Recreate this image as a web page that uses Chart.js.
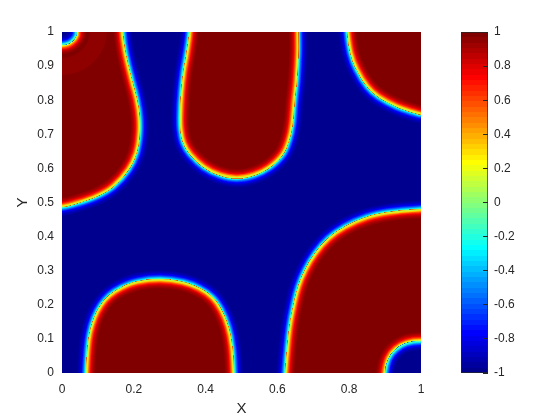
<!DOCTYPE html>
<html>
<head>
<meta charset="utf-8">
<script src="https://cdn.jsdelivr.net/npm/chart.js@4.4.1/dist/chart.umd.min.js"></script>
<style>
  html, body { margin: 0; padding: 0; background: #fff; }
  #wrap { position: relative; width: 560px; height: 420px; }
  #wrap canvas { position: absolute; left: 0; top: 0; }
</style>
</head>
<body>
<div id="wrap">
  <canvas id="field" width="560" height="420"></canvas>
  <canvas id="cbar" width="560" height="420"></canvas>
</div>
<script>
"use strict";

// ── Tick values ──────────────────────────────────────────────────────────────
const xTicks    = [0, 0.2, 0.4, 0.6, 0.8, 1];
const yTicks    = [0, 0.1, 0.2, 0.3, 0.4, 0.5, 0.6, 0.7, 0.8, 0.9, 1];
const cbarTicks = [-1, -0.8, -0.6, -0.4, -0.2, 0, 0.2, 0.4, 0.6, 0.8, 1];

// ── Phase outlines (0-level line) ───────────────────────────────────────────
// points outside [0,1] only close the shape beyond the axes
const redTopLeft = [
  [0.16, 1.2], [0.165, 1.06], [0.169, 1.0], [0.175, 0.95], [0.185, 0.9],
  [0.197, 0.85], [0.209, 0.8], [0.216, 0.75], [0.216, 0.7], [0.207, 0.644],
  [0.185, 0.596], [0.143, 0.547], [0.097, 0.518], [0.031, 0.494], [0, 0.487],
  [-0.06, 0.482], [-0.2, 0.47], [-0.2, 1.2],
];
const redTopMid = [
  [0.355, 1.2], [0.357, 1.06], [0.355, 1.0], [0.347, 0.937], [0.338, 0.88],
  [0.332, 0.82], [0.329, 0.76], [0.33, 0.715], [0.338, 0.675], [0.357, 0.641],
  [0.396, 0.603], [0.44, 0.58], [0.487, 0.571], [0.535, 0.58], [0.578, 0.603],
  [0.615, 0.641], [0.633, 0.685], [0.642, 0.73], [0.648, 0.8], [0.654, 0.86],
  [0.658, 0.937], [0.658, 1.0], [0.658, 1.06], [0.66, 1.2],
];
const redTopRight = [
  [0.79, 1.2], [0.793, 1.06], [0.795, 1.0], [0.804, 0.937], [0.821, 0.889],
  [0.85, 0.84], [0.881, 0.81], [0.932, 0.781], [0.988, 0.761], [1.0, 0.758],
  [1.06, 0.752], [1.2, 0.75], [1.2, 1.2],
];
const redBottomRight = [
  [0.618, -0.2], [0.62, -0.06], [0.622, 0], [0.627, 0.067], [0.634, 0.136],
  [0.644, 0.194], [0.658, 0.253], [0.677, 0.302], [0.705, 0.351], [0.742, 0.395],
  [0.788, 0.429], [0.849, 0.457], [0.914, 0.472], [0.997, 0.48], [1.06, 0.482],
  [1.2, 0.48], [1.2, -0.2],
];
const redBottomLeft = [
  [0.064, -0.2], [0.065, -0.06], [0.067, 0], [0.071, 0.067], [0.077, 0.116],
  [0.09, 0.163], [0.108, 0.199], [0.132, 0.228], [0.166, 0.251], [0.21, 0.268],
  [0.273, 0.275], [0.336, 0.267], [0.382, 0.249], [0.419, 0.222], [0.444, 0.185],
  [0.463, 0.136], [0.474, 0.077], [0.479, 0], [0.48, -0.06], [0.481, -0.2],
];
const blueCornerTL = [
  [-0.2, 0.8], [-0.06, 0.962], [0, 0.962], [0.02, 0.967], [0.033, 0.978],
  [0.04, 0.99], [0.041, 1.0], [0.04, 1.01], [0.033, 1.022], [0.02, 1.033],
  [0, 1.038], [-0.06, 1.038], [-0.2, 1.2],
];
const blueCornerBR = [
  [0.898, -0.2], [0.899, -0.06], [0.9, 0], [0.91, 0.043], [0.93, 0.07],
  [0.96, 0.088], [1.0, 0.094], [1.04, 0.089], [1.2, 0.06], [1.2, -0.2],
];

// ── Colour map (MATLAB jet, 64 levels) ──────────────────────────────────────
function jetIndex(i) {
  const c = v => Math.round(255 * Math.max(0, Math.min(1, v)));
  const r = Math.min((i - 23) / 16, (71 - i) / 16, 1);
  const g = Math.min((i - 7) / 16, (55 - i) / 16, 1);
  const b = Math.min((i + 9) / 16, (39 - i) / 16, 1);
  return `rgb(${c(r)},${c(g)},${c(b)})`;
}
function jet(v) {
  return jetIndex(Math.max(0, Math.min(63, Math.floor((v + 1) / 2 * 64))));
}

const TXT  = "#262626";
const FONT = "'Liberation Sans', Arial, Helvetica, sans-serif";
Chart.defaults.font.family = FONT;
Chart.defaults.color = TXT;

// ── Build layered datasets: halo strokes, flat fill, clipped inner strokes ──
const EPS = 4.5;      // interface half-width in px
const LAYERS = 13;
const datasets = [];

function strokeDs(data, width, color) {
  return {
    data, fill: false, borderColor: color, borderWidth: width,
    borderJoinStyle: "round", pointRadius: 0, tension: 0.4, clip: 0,
  };
}

function addPhase(pts, sign, halo) {
  const data = pts.map(([x, y]) => ({ x, y }));
  if (halo) halo.forEach(h => datasets.push(strokeDs(data, 2 * h.d, jet(-sign * h.v))));
  for (let d = LAYERS; d >= 1; d--) {
    datasets.push(strokeDs(data, 2 * d, jet(-sign * Math.tanh((d - 0.5) / EPS))));
  }
  const fillIdx = datasets.length;
  datasets.push({
    data, fill: "shape", backgroundColor: jet(sign), borderColor: "rgba(0,0,0,0)",
    borderWidth: 1, pointRadius: 0, tension: 0.4, clip: 0,
  });
  for (let d = LAYERS; d >= 1; d--) {
    const ds = strokeDs(data, 2 * d, jet(sign * Math.tanh((d - 0.5) / EPS)));
    ds.clipTo = fillIdx;
    datasets.push(ds);
  }
}

addPhase(redTopLeft, 1);
addPhase(redTopMid, 1);
addPhase(redTopRight, 1);
addPhase(redBottomRight, 1);
addPhase(redBottomLeft, 1);
addPhase(blueCornerTL, -1, [{ d: 30, v: 0.96 }]);
addPhase(blueCornerBR, -1);
datasets.forEach((ds, i) => { ds.order = -i; });

// clip a dataset to the inside of another dataset's outline
const shapeClip = {
  id: "shapeClip",
  beforeDatasetDraw(chart, args) {
    const ds = chart.data.datasets[args.index];
    if (ds.clipTo === undefined) return;
    const line = chart.getDatasetMeta(ds.clipTo).dataset;
    const ctx = chart.ctx;
    ctx.save();
    ctx.beginPath();
    line.path(ctx);
    ctx.closePath();
    ctx.clip();
  },
  afterDatasetDraw(chart, args) {
    const ds = chart.data.datasets[args.index];
    if (ds.clipTo !== undefined) chart.ctx.restore();
  },
};

const areaBg = {
  id: "areaBg",
  beforeDatasetsDraw(chart) {
    const { ctx, chartArea: a } = chart;
    ctx.save();
    ctx.fillStyle = jet(-1);
    ctx.fillRect(a.left, a.top, a.right - a.left, a.bottom - a.top);
    ctx.restore();
  },
};

new Chart(document.getElementById("field"), {
  type: "line",
  data: { datasets },
  plugins: [areaBg, shapeClip],
  options: {
    responsive: false,
    animation: false,
    devicePixelRatio: 1,
    layout: { padding: { left: 0, right: 139, top: 32, bottom: 0 } },
    plugins: { legend: { display: false }, tooltip: { enabled: false } },
    scales: {
      x: {
        type: "linear", min: 0, max: 1,
        afterBuildTicks: s => { s.ticks = xTicks.map(value => ({ value })); },
        afterFit: s => { s.height = 47; },
        grid: { display: false, drawTicks: false }, border: { display: false },
        ticks: { padding: 9, color: TXT, font: { size: 12 }, callback: v => String(v) },
        title: { display: true, text: "X", color: TXT, font: { size: 15 }, padding: { top: 0, bottom: 2 } },
      },
      y: {
        type: "linear", min: 0, max: 1,
        afterBuildTicks: s => { s.ticks = yTicks.map(value => ({ value })); },
        afterFit: s => { s.width = 62; },
        grid: { display: false, drawTicks: false }, border: { display: false },
        ticks: { padding: 8, color: TXT, font: { size: 12 }, callback: v => String(v) },
        title: { display: true, text: "Y", color: TXT, font: { size: 15 }, padding: { top: 14, bottom: 0 } },
      },
    },
  },
});

// ── Colour bar ──────────────────────────────────────────────────────────────
function cbarFill(context) {
  const { chart } = context;
  const a = chart.chartArea;
  if (!a) return null;
  const g = chart.ctx.createLinearGradient(0, a.bottom, 0, a.top);
  for (let i = 0; i < 64; i++) {
    g.addColorStop(i / 64, jetIndex(i));
    g.addColorStop((i + 1) / 64, jetIndex(i));
  }
  return g;
}

new Chart(document.getElementById("cbar"), {
  type: "bar",
  data: {
    labels: [""],
    datasets: [{
      data: [[cbarTicks[0], cbarTicks[cbarTicks.length - 1]]],
      backgroundColor: cbarFill,
      borderColor: TXT, borderWidth: 1, borderSkipped: false,
      barPercentage: 1, categoryPercentage: 1,
    }],
  },
  options: {
    responsive: false,
    animation: false,
    devicePixelRatio: 1,
    layout: { padding: { left: 461, right: 0, top: 32, bottom: 47 } },
    plugins: { legend: { display: false }, tooltip: { enabled: false } },
    scales: {
      x: { display: false },
      y: {
        position: "right", min: -1, max: 1,
        afterBuildTicks: s => { s.ticks = cbarTicks.map(value => ({ value })); },
        afterFit: s => { s.width = 72; },
        grid: { drawOnChartArea: false, tickLength: -5, color: TXT, z: 1 },
        border: { display: false },
        ticks: { padding: 11, color: TXT, font: { size: 12 }, callback: v => String(v) },
      },
    },
  },
});
</script>
</body>
</html>
